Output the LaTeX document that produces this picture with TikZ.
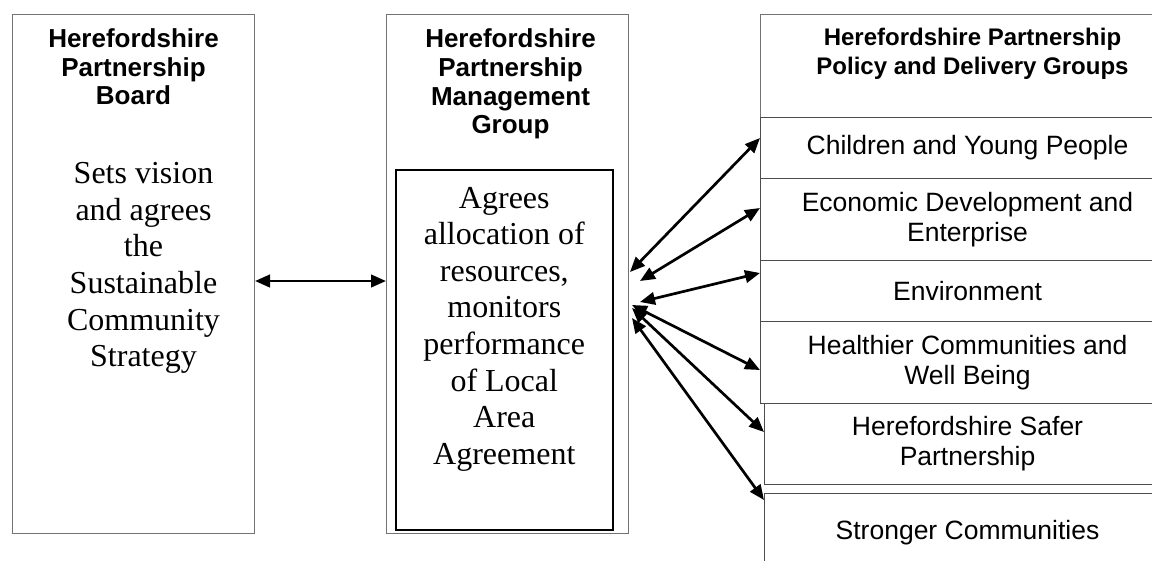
\documentclass[tikz,border=0pt]{standalone}
\usepackage{fontspec}
\setmainfont{Liberation Serif}
\setsansfont{Liberation Sans}
\usetikzlibrary{arrows.meta}

\begin{document}
\begin{tikzpicture}[
        x=1pt, y=-1pt,
        box/.style={draw=black!55, line width=1pt, anchor=north west, inner sep=0pt},
        rowbox/.style={box, draw=black!70, align=center,
                font=\sffamily\fontsize{26.5}{30}\selectfont},
        head/.style={align=center, inner sep=0pt,
                font=\sffamily\bfseries\fontsize{26}{28.6}\selectfont},
        body/.style={align=center, inner sep=0pt,
                font=\fontsize{32}{36.6}\selectfont},
        link/.style={{Triangle[length=15pt,width=12.5pt]}-{Triangle[length=15pt,width=12.5pt]},
                line width=2.7pt}
    ]
    \clip (0,0) rectangle (1152,560);

    % board and management group
    \node[box, minimum width=242pt, minimum height=519pt] (board) at (12,14) {};
    \node[box, minimum width=242pt, minimum height=519pt] (mgmt) at (386,14) {};
    \node[box, draw=black, line width=1.6pt, minimum width=217pt, minimum height=360pt] (remit) at (395,169) {};

    \node[head] (boardtitle) at ([yshift=-53pt]board.north) {Herefordshire\\Partnership\\Board};
    \node[body] (boardtext) at ([xshift=10pt,yshift=-254pt]board.north)
        {Sets vision\\and agrees\\the\\Sustainable\\Community\\Strategy};
    \node[head] (mgmttitle) at ([xshift=3pt,yshift=-70pt]mgmt.north)
        {Herefordshire\\Partnership\\Management\\Group};
    \node[body] (remittext) at ([yshift=-160pt]remit.north)
        {Agrees\\allocation of\\resources,\\monitors\\performance\\of Local\\Area\\Agreement};

    % policy and delivery groups
    \node[box, minimum width=414pt, minimum height=103pt] (groups) at (760,14) {};
    \node[head, font=\sffamily\bfseries\fontsize{24}{28.6}\selectfont] (groupstitle)
        at ([xshift=5pt,yshift=-40pt]groups.north)
        {Herefordshire Partnership\\Policy and Delivery Groups};
    \node[rowbox, minimum width=414pt, minimum height=61pt] (kids) at (760,117) {Children and Young People};
    \node[rowbox, minimum width=414pt, minimum height=82pt] (econ) at (760,178) {Economic Development and\\Enterprise};
    \node[rowbox, minimum width=414pt, minimum height=61pt] (env) at (760,260) {Environment};
    \node[rowbox, minimum width=414pt, minimum height=82pt] (health) at (760,321) {Healthier Communities and\\Well Being};
    \node[rowbox, minimum width=406pt, minimum height=81pt] (safer) at (764,403) {Herefordshire Safer\\Partnership};
    \node[rowbox, minimum width=406pt, minimum height=79pt] (strong) at (764,493) {Stronger Communities};

    \draw[link] (board.east |- 0,281) -- (mgmt.west |- 0,281);
    \foreach \grp/\hx/\hy/\gy in {kids/630/272/138, econ/640/281/208, env/640/302/273,
            health/632/305/370, safer/632/308/432, strong/632/318/500} {
        \coordinate (\grp-hub) at (\hx,\hy);
        \draw[link] (\grp-hub) -- (\grp.west |- 0,\gy);
    }
\end{tikzpicture}
\end{document}
